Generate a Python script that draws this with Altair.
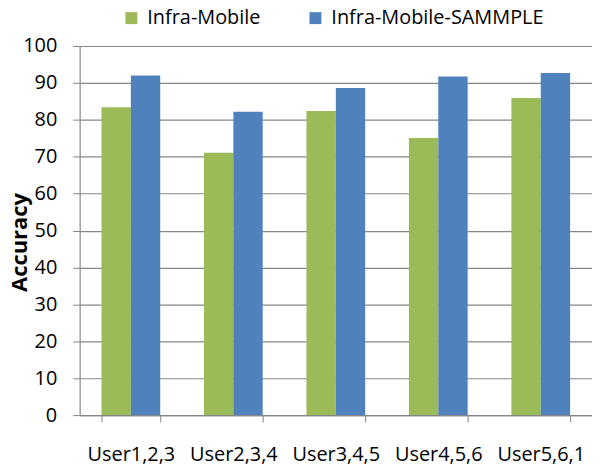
import altair as alt
import pandas as pd

categories = ["User1,2,3", "User2,3,4", "User3,4,5", "User4,5,6", "User5,6,1"]
series_names = ["Infra-Mobile", "Infra-Mobile-SAMMPLE"]
infra_mobile = [83.4, 71.1, 82.4, 75.1, 85.9]
infra_mobile_sammple = [92.0, 82.2, 88.6, 91.7, 92.7]
colors = ["#9BBB59", "#4F81BD"]
y_ticks = [0, 10, 20, 30, 40, 50, 60, 70, 80, 90, 100]

rows = []
for c, a, b in zip(categories, infra_mobile, infra_mobile_sammple):
    rows.append({"cat": c, "series": series_names[0], "value": a})
    rows.append({"cat": c, "series": series_names[1], "value": b})
df = pd.DataFrame(rows)

gray = "#868686"

chart = alt.Chart(df).mark_bar().encode(
    x=alt.X(
        "cat:N", sort=categories, title=None,
        scale=alt.Scale(paddingInner=0.427, paddingOuter=0.2135),
        axis=alt.Axis(labelAngle=0, tickBand="extent", ticks=True, tickSize=7,
                      tickColor=gray, domainColor=gray, domainWidth=1.2,
                      labelPadding=23, labelFontSize=20, labelColor="#000000",
                      grid=False),
    ),
    xOffset=alt.XOffset("series:N", sort=series_names,
                        scale=alt.Scale(paddingInner=0, paddingOuter=0)),
    y=alt.Y(
        "value:Q", scale=alt.Scale(domain=[0, 100], nice=False),
        axis=alt.Axis(values=y_ticks, title="Accuracy", titleFontSize=22,
                      titleFontWeight="bold", titleColor="#000000",
                      titleAngle=270, titleBaseline="alphabetic", titleAlign="center",
                      titleX=-53, titleY=197,
                      tickSize=7, tickColor=gray, domainColor=gray, domainWidth=1.2,
                      labelPadding=16, labelFontSize=20, labelColor="#000000",
                      grid=True, gridColor=gray, gridWidth=1.2),
    ),
    color=alt.Color(
        "series:N", sort=series_names,
        scale=alt.Scale(domain=series_names, range=colors),
        legend=alt.Legend(title=None, orient="none", legendX=42, legendY=-38,
                          direction="horizontal", symbolType="square",
                          symbolSize=144, symbolStrokeWidth=0, labelFontSize=20,
                          labelColor="#000000", labelOffset=6, columnPadding=45,
                          padding=0, labelLimit=400),
    ),
).properties(
    width=515, height=371,
    autosize=alt.AutoSizeParams(type="none"),
    padding={"left": 72, "top": 37, "right": 0, "bottom": 51},
).configure(font="Open Sans").configure_view(stroke=None)

chart.save("out.html", embed_options={"renderer": "svg", "actions": False})
